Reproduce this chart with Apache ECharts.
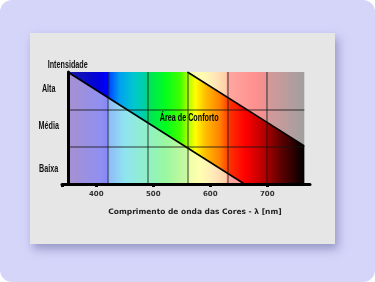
<!DOCTYPE html>
<html lang="pt">
<head>
<meta charset="UTF-8">
<title>Comprimento de onda das Cores</title>
<style>
  html, body { margin: 0; padding: 0; background: #fff; }
  #frame { position: relative; width: 375px; height: 282px; background: #d5d5fa; border-radius: 12px; overflow: hidden; }
  #card { position: absolute; left: 30px; top: 33px; width: 305px; height: 211px; background: #e6e6e6; box-shadow: 3px 5px 9px rgba(90, 90, 150, 0.5); }
  #chart { position: absolute; left: 0; top: 0; width: 375px; height: 282px; }
</style>
</head>
<body>
<div id="frame">
  <div id="card"></div>
  <div id="chart"></div>
</div>
<script src="https://cdn.jsdelivr.net/npm/echarts@6/dist/echarts.min.js"></script>
<script>
// eixo x (nm)
var xTickValues = [340, 400, 500, 600, 700];
var xLabelValues = [400, 500, 600, 700];
var gridX = [420, 490, 560, 630, 700];
var gridY = [1, 2];
// eixo y (intensidade)
var levelNames = ['Baixa', 'Média', 'Alta'];
var levelPos = [0.4, 1.55, 2.55];
// faixas do espectro
var fullBand = [[350, 3], [765, 3]];
var upperEdge = [[350, 3], [560, 3], [765, 1.02]];
var lowerEdge = [[350, 3], [660, 0], [765, 0]];
var upperLine = [[560, 3], [765, 1.02]];
var lowerLine = [[350, 3], [660, 0]];
var comfortText = 'Área de Conforto';
var comfortPos = [563, 1.77];

// fonte estreita: Liberation Sans comprimida na horizontal
var narrowFont = 'bold 10px "Liberation Sans", Arial, sans-serif';
var narrowScale = 0.72;

function grad(stops) {
    return {
        type: 'linear', x: 0, y: 0, x2: 1, y2: 0,
        colorStops: stops.map(function (s) { return { offset: s[0], color: s[1] }; })
    };
}

// cores claras (fora da area de conforto)
var pastel = grad([
    [0, '#a890d0'], [0.136, '#9090f0'], [0.165, '#8888f8'], [0.172, '#90b8f8'],
    [0.24, '#90e4f0'], [0.335, '#90f0c8'], [0.41, '#98f8a0'], [0.5, '#c8f8a0'],
    [0.52, '#f0ffa8'], [0.56, '#ffffb0'], [0.62, '#ffe8b8'], [0.668, '#ffd0a8'],
    [0.674, '#ffa8a0'], [0.79, '#ff9090'], [0.83, '#f09090'], [0.84, '#d89898'],
    [1, '#a0a0a0']
]);
// cores saturadas (area de conforto)
var vivid = grad([
    [0, '#1a1aa0'], [0.136, '#0000e0'], [0.165, '#0000ff'], [0.18, '#0050ff'],
    [0.22, '#00a0f0'], [0.28, '#00c8d0'], [0.33, '#00d0a0'], [0.34, '#00e060'],
    [0.41, '#00ff20'], [0.475, '#40ff00'], [0.505, '#a0ff00'], [0.54, '#ffff00'],
    [0.58, '#ffc000'], [0.644, '#ff8000'], [0.686, '#ff3000'], [0.75, '#ff0000'],
    [0.82, '#c00000'], [0.9, '#600000'], [1, '#000000']
]);

var gridLines = gridX.map(function (v) {
    return [{ coord: [v, 0] }, { coord: [v, 3] }];
}).concat(gridY.map(function (v) {
    return [{ coord: [350, v] }, { coord: [765, v] }];
}));

var chart = echarts.init(document.getElementById('chart'));
var option = {
    animation: false,
    grid: { left: 62, right: 65, top: 72, bottom: 98 },
    xAxis: {
        type: 'value',
        min: 340,
        max: 775,
        z: 10,
        name: 'Comprimento de onda das Cores - λ [nm]',
        nameLocation: 'middle',
        nameGap: 24,
        nameTextStyle: { fontFamily: 'DejaVu Sans', fontWeight: 'bold', fontSize: 7.5, color: '#222', padding: [0, 0, 0, 18] },
        axisLine: { lineStyle: { color: '#000', width: 3 } },
        axisTick: { customValues: xTickValues, length: 3, lineStyle: { color: '#000', width: 3 } },
        axisLabel: { customValues: xLabelValues, margin: 7, fontFamily: 'DejaVu Sans', fontWeight: 'bold', fontSize: 7, color: '#333' },
        splitLine: { show: false }
    },
    yAxis: {
        type: 'value',
        min: 0,
        max: 3,
        offset: -6,
        z: 10,
        axisLine: { show: true, lineStyle: { color: '#000', width: 3 } },
        axisTick: { show: false },
        splitLine: { show: false },
        axisLabel: { show: false }
    },
    series: [
        {
            type: 'line', data: fullBand, symbol: 'none', silent: true,
            lineStyle: { width: 0 }, areaStyle: { color: pastel, opacity: 1 }
        },
        {
            type: 'line', data: upperEdge, symbol: 'none', silent: true,
            lineStyle: { width: 0 }, areaStyle: { color: vivid, opacity: 1 }
        },
        {
            type: 'line', data: lowerEdge, symbol: 'none', silent: true,
            lineStyle: { width: 0 }, areaStyle: { color: pastel, opacity: 1 }
        },
        {
            type: 'line', data: upperLine, symbol: 'none', silent: true,
            lineStyle: { color: '#000', width: 1.5 }
        },
        {
            type: 'line', data: lowerLine, symbol: 'none', silent: true,
            lineStyle: { color: '#000', width: 1.5 },
            markLine: {
                silent: true,
                symbol: ['none', 'none'],
                label: { show: false },
                lineStyle: { color: 'rgba(20,20,20,0.55)', width: 1.5, type: 'solid' },
                data: gridLines
            }
        }
    ]
};
chart.setOption(option);

// textos estreitos posicionados pelas escalas do grafico
function narrowText(text, x, y) {
    return {
        type: 'text', x: x, y: y, scaleX: narrowScale, z: 100, silent: true,
        style: { text: text, font: narrowFont, fill: '#111', textAlign: 'center', textVerticalAlign: 'middle' }
    };
}
var axisX = chart.convertToPixel({ xAxisIndex: 0 }, 350);
var texts = levelNames.map(function (name, i) {
    return narrowText(name, axisX - 19, chart.convertToPixel({ yAxisIndex: 0 }, levelPos[i]));
});
texts.push(narrowText('Intensidade', axisX, chart.convertToPixel({ yAxisIndex: 0 }, 3) - 7));
var cp = chart.convertToPixel({ gridIndex: 0 }, comfortPos);
var ct = narrowText(comfortText, cp[0], cp[1]);
ct.style.fill = '#000';
texts.push(ct);
chart.setOption({ graphic: texts });
</script>
</body>
</html>
